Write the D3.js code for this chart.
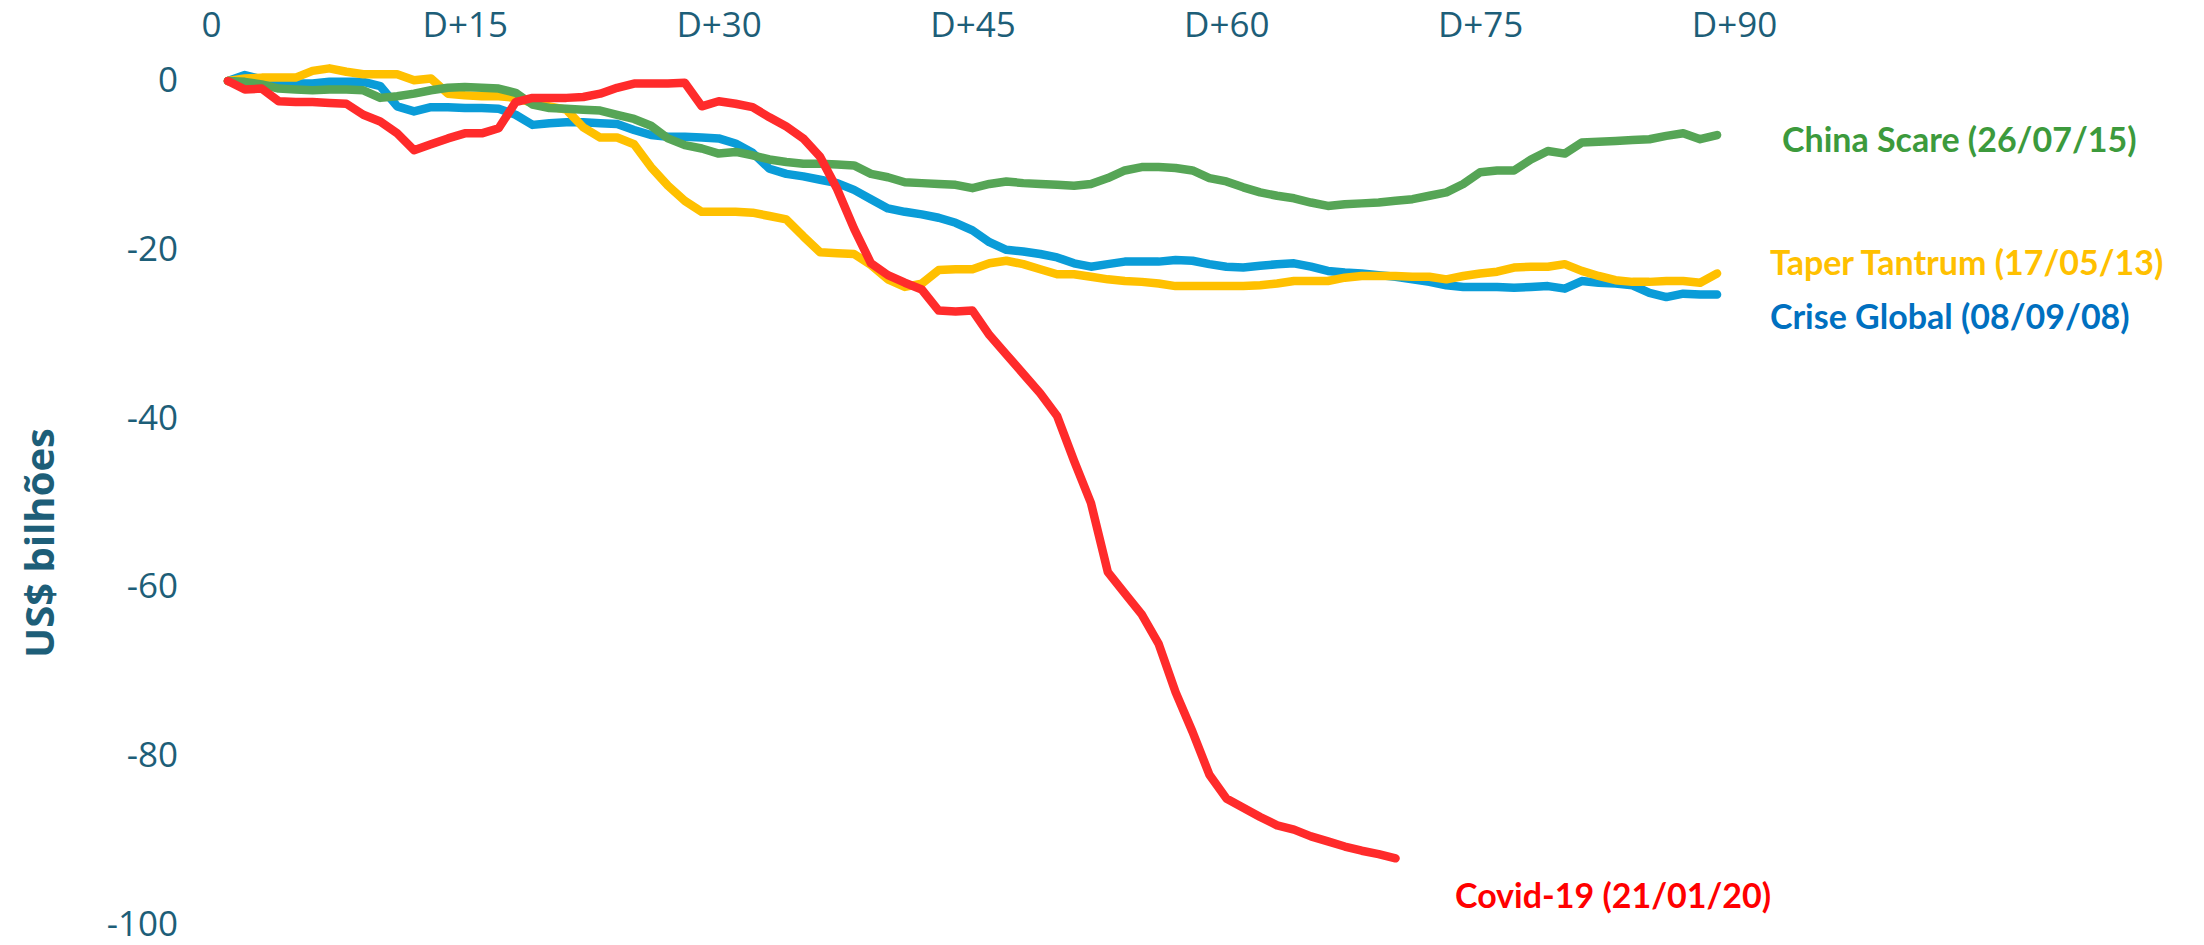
<!DOCTYPE html>
<html>
<head>
<meta charset="utf-8">
<script src="https://cdn.jsdelivr.net/npm/d3@7"></script>
<style>
  html, body { margin: 0; padding: 0; background: #ffffff; }
  svg { display: block; }
</style>
</head>
<body>
<div id="chart"></div>
<script>
// ---- data: cumulative flows (US$ billion), one value per day starting at D+1 ----
const xTickDays   = [0, 15, 30, 45, 60, 75, 90];
const xTickLabels = ["0", "D+15", "D+30", "D+45", "D+60", "D+75", "D+90"];
const yTickValues = [0, -20, -40, -60, -80, -100];

const seriesNames = [
  "Crise Global (08/09/08)",
  "Taper Tantrum (17/05/13)",
  "China Scare (26/07/15)",
  "Covid-19 (21/01/20)"
];

const criseGlobal = [
  0, 0.7, 0.2, 0.0, -0.3, -0.3, -0.1, -0.1, -0.1, -0.6,
  -3.0, -3.6, -3.1, -3.1, -3.2, -3.2, -3.3, -4.0, -5.2, -5.0,
  -4.9, -4.9, -5.0, -5.1, -5.8, -6.4, -6.6, -6.6, -6.7, -6.8,
  -7.4, -8.5, -10.4, -11.0, -11.3, -11.7, -12.1, -12.9, -14.0, -15.1,
  -15.5, -15.8, -16.2, -16.8, -17.7, -19.1, -20.0, -20.2, -20.5, -20.9,
  -21.6, -22.0, -21.7, -21.4, -21.4, -21.4, -21.2, -21.3, -21.7, -22.0,
  -22.1, -21.9, -21.7, -21.6, -22.0, -22.5, -22.7, -22.8, -23.0, -23.2,
  -23.5, -23.8, -24.2, -24.4, -24.4, -24.4, -24.5, -24.4, -24.3, -24.6,
  -23.7, -23.9, -24.0, -24.2, -25.1, -25.6, -25.2, -25.3, -25.3
];

const taperTantrum = [
  0, 0.3, 0.4, 0.4, 0.4, 1.2, 1.5, 1.1, 0.8, 0.8,
  0.8, 0.1, 0.3, -1.5, -1.7, -1.8, -1.8, -2.0, -2.6, -3.0,
  -3.4, -5.5, -6.7, -6.7, -7.5, -10.2, -12.4, -14.2, -15.5, -15.5,
  -15.5, -15.6, -16.0, -16.4, -18.4, -20.3, -20.4, -20.5, -21.8, -23.5,
  -24.4, -24.0, -22.4, -22.3, -22.3, -21.6, -21.3, -21.7, -22.3, -22.9,
  -22.9, -23.2, -23.5, -23.7, -23.8, -24.0, -24.3, -24.3, -24.3, -24.3,
  -24.3, -24.2, -24.0, -23.7, -23.7, -23.7, -23.3, -23.1, -23.1, -23.1,
  -23.2, -23.2, -23.5, -23.1, -22.8, -22.6, -22.1, -22.0, -22.0, -21.7,
  -22.5, -23.1, -23.6, -23.8, -23.8, -23.7, -23.7, -23.9, -22.8
];

const chinaScare = [
  0, -0.1, -0.4, -0.9, -1.0, -1.1, -1.0, -1.0, -1.1, -2.0,
  -1.8, -1.5, -1.1, -0.8, -0.7, -0.8, -0.9, -1.4, -2.8, -3.2,
  -3.3, -3.4, -3.5, -4.0, -4.5, -5.3, -6.8, -7.6, -8.0, -8.6,
  -8.4, -8.8, -9.3, -9.6, -9.8, -9.8, -9.9, -10.0, -11.0, -11.4,
  -12.0, -12.1, -12.2, -12.3, -12.7, -12.2, -11.9, -12.1, -12.2, -12.3,
  -12.4, -12.2, -11.5, -10.6, -10.2, -10.2, -10.3, -10.6, -11.5, -11.9,
  -12.6, -13.2, -13.6, -13.9, -14.4, -14.8, -14.6, -14.5, -14.4, -14.2,
  -14.0, -13.6, -13.2, -12.2, -10.8, -10.6, -10.6, -9.3, -8.3, -8.6,
  -7.3, -7.2, -7.1, -7.0, -6.9, -6.5, -6.2, -6.9, -6.4
];

const covid19 = [
  0, -1.0, -0.9, -2.4, -2.5, -2.5, -2.6, -2.7, -4.0, -4.8,
  -6.2, -8.2, -7.5, -6.8, -6.2, -6.2, -5.6, -2.5, -2.0, -2.0,
  -2.0, -1.9, -1.5, -0.8, -0.3, -0.3, -0.3, -0.2, -3.0, -2.4,
  -2.7, -3.1, -4.3, -5.4, -6.8, -9.0, -12.8, -17.5, -21.6, -23.0,
  -23.9, -24.7, -27.2, -27.3, -27.2, -30.1, -32.4, -34.7, -37.0, -39.7,
  -45.0, -50.0, -58.2, -60.7, -63.2, -66.7, -72.4, -77.1, -82.2, -85.0,
  -86.1, -87.2, -88.2, -88.7, -89.5, -90.1, -90.7, -91.2, -91.6, -92.1
];

// ---- layout and styles ----
const W = 2204, H = 945;
const tickColor = "#1d5e78";
const lineColors  = ["#0a9cd8", "#ffc000", "#56a556", "#ff2b2b"];
const labelColors = ["#0070c0", "#ffc000", "#3c9a3c", "#ff0000"];
const labelPos = [
  { x: 1770, y: 329 },
  { x: 1770, y: 275 },
  { x: 1782, y: 152 },
  { x: 1455, y: 908 }
];

const svg = d3.select("#chart").append("svg")
  .attr("width", W).attr("height", H)
  .attr("viewBox", `0 0 ${W} ${H}`);

svg.append("rect").attr("width", W).attr("height", H).attr("fill", "#ffffff");

const x = d3.scaleLinear().domain([0, 90]).range([211, 1734]);
const y = d3.scaleLinear().domain([0, -100]).range([81, 925]);

// top category axis (labels only)
const xAxis = d3.axisTop(x)
  .tickValues(xTickDays)
  .tickFormat((d, i) => xTickLabels[i])
  .tickSize(0).tickPadding(0);

const gx = svg.append("g").attr("transform", "translate(0,37)").call(xAxis);
gx.select(".domain").remove();
gx.selectAll("text")
  .attr("fill", tickColor)
  .attr("font-family", "'Open Sans', sans-serif")
  .attr("font-size", 35)
  .attr("dy", 0);

// left value axis (labels only), plain hyphen for negatives
const yAxis = d3.axisLeft(y)
  .tickValues(yTickValues)
  .tickFormat(d => String(d))
  .tickSize(0).tickPadding(0);

const gy = svg.append("g").attr("transform", "translate(178,0)").call(yAxis);
gy.select(".domain").remove();
gy.selectAll("text")
  .attr("fill", tickColor)
  .attr("font-family", "'Open Sans', sans-serif")
  .attr("font-size", 35)
  .attr("dy", "0.3em");

// axis title
svg.append("text")
  .attr("transform", "translate(54,543) rotate(-90)")
  .attr("text-anchor", "middle")
  .attr("fill", tickColor)
  .attr("font-family", "'Open Sans', sans-serif")
  .attr("font-weight", 700)
  .attr("font-size", 40)
  .text("US$ bilhões");

const line = d3.line()
  .x(d => x(d[0]))
  .y(d => y(d[1]));

const seriesValues = [criseGlobal, taperTantrum, chinaScare, covid19];

seriesValues.forEach((vals, s) => {
  const pts = vals.map((v, i) => [i + 1, v]);
  svg.append("path")
    .attr("d", line(pts))
    .attr("fill", "none")
    .attr("stroke", lineColors[s])
    .attr("stroke-width", 8.5)
    .attr("stroke-linejoin", "round")
    .attr("stroke-linecap", "round");
});

// series labels
seriesNames.forEach((name, s) => {
  svg.append("text")
    .attr("x", labelPos[s].x)
    .attr("y", labelPos[s].y)
    .attr("fill", labelColors[s])
    .attr("font-family", "Lato, 'Open Sans', sans-serif")
    .attr("font-weight", 700)
    .attr("font-size", 34)
    .text(name);
});
</script>
</body>
</html>
